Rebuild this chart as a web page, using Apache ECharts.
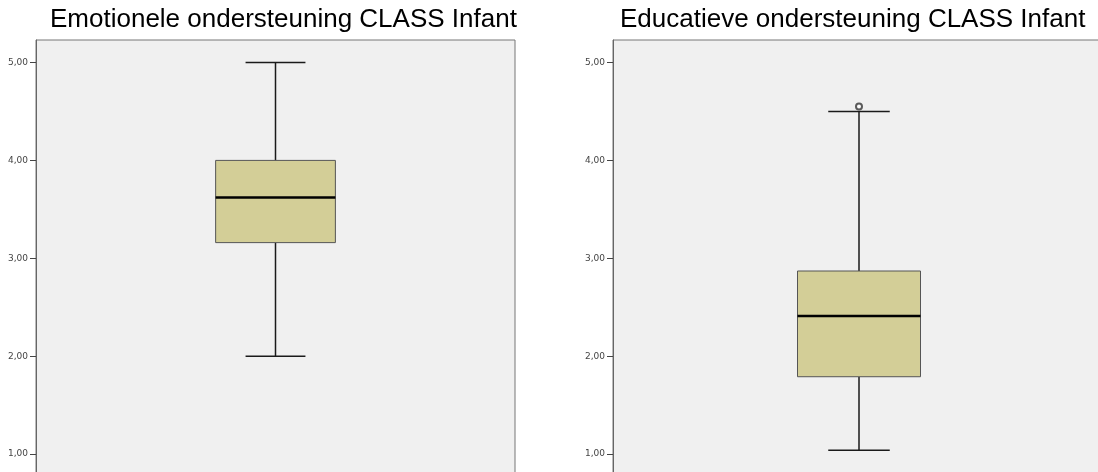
<!DOCTYPE html>
<html>
<head>
<meta charset="utf-8">
<script src="https://cdn.jsdelivr.net/npm/echarts@6/dist/echarts.min.js"></script>
<style>
  html, body { margin: 0; padding: 0; background: #fff; }
  #chart { width: 1098px; height: 472px; }
</style>
</head>
<body>
<div id="chart"></div>
<script>
// --- data ---
var titles = ['Emotionele ondersteuning CLASS Infant', 'Educatieve ondersteuning CLASS Infant'];
var categories = ['1'];
// [min, Q1, median, Q3, max]
var emotioneel = [2.00, 3.16, 3.62, 4.00, 5.00];
var educatief = [1.04, 1.79, 2.41, 2.87, 4.50];
var educatiefOutliers = [4.55];
var yTicks = [1, 2, 3, 4, 5];

var chart = echarts.init(document.getElementById('chart'), null, { renderer: 'canvas' });

function fmt(v) { return v.toFixed(2).replace('.', ','); }

function renderBox(params, api) {
  var x = api.value(0);
  var lo = api.coord([x, api.value(1)]);
  var q1 = api.coord([x, api.value(2)]);
  var med = api.coord([x, api.value(3)]);
  var q3 = api.coord([x, api.value(4)]);
  var hi = api.coord([x, api.value(5)]);
  var band = api.size([1, 0])[0];
  var bw = band * 0.25;
  var cw = bw / 2;
  var cx = lo[0];
  var line = { stroke: '#1a1a1a', lineWidth: 1.5 };
  return {
    type: 'group',
    children: [
      { type: 'line', shape: { x1: cx, y1: hi[1], x2: cx, y2: q3[1] }, style: line },
      { type: 'line', shape: { x1: cx, y1: q1[1], x2: cx, y2: lo[1] }, style: line },
      { type: 'line', shape: { x1: cx - cw / 2, y1: hi[1], x2: cx + cw / 2, y2: hi[1] }, style: line },
      { type: 'line', shape: { x1: cx - cw / 2, y1: lo[1], x2: cx + cw / 2, y2: lo[1] }, style: line },
      { type: 'rect', shape: { x: cx - bw / 2, y: q3[1], width: bw, height: q1[1] - q3[1] },
        style: { fill: '#d3ce97', stroke: '#555', lineWidth: 1 } },
      { type: 'line', shape: { x1: cx - bw / 2, y1: med[1], x2: cx + bw / 2, y2: med[1] },
        style: { stroke: '#000', lineWidth: 2.5 } }
    ]
  };
}

function makeY(idx) {
  return {
    type: 'value', gridIndex: idx, min: 0.5, max: 5.23,
    axisLine: { show: true, lineStyle: { color: '#666', width: 1 } },
    axisTick: { show: true, length: 6, customValues: yTicks, lineStyle: { color: '#444' } },
    axisLabel: { customValues: yTicks, formatter: fmt, fontSize: 9, margin: 8,
      color: '#444', fontFamily: 'DejaVu Sans' },
    splitLine: { show: false }
  };
}

function makeX(idx) {
  return {
    type: 'category', gridIndex: idx, data: categories,
    axisLine: { show: false }, axisTick: { show: false }, axisLabel: { show: false }
  };
}

var titleStyle = { fontFamily: 'Liberation Sans', fontSize: 26, fontWeight: 'normal', color: '#000' };

chart.setOption({
  animation: false,
  title: [
    { text: titles[0], left: 50, top: 7, padding: 0, textStyle: titleStyle },
    { text: titles[1], left: 620, top: 7, padding: 0, textStyle: titleStyle }
  ],
  grid: [
    { left: 36, top: 40, width: 479, height: 463, outerBoundsMode: 'none', containLabel: false,
      show: true, backgroundColor: '#f0f0f0', borderColor: '#777', borderWidth: 1 },
    { left: 613, top: 40, width: 492, height: 463, outerBoundsMode: 'none', containLabel: false,
      show: true, backgroundColor: '#f0f0f0', borderColor: '#777', borderWidth: 1 }
  ],
  xAxis: [makeX(0), makeX(1)],
  yAxis: [makeY(0), makeY(1)],
  series: [
    { type: 'custom', xAxisIndex: 0, yAxisIndex: 0, renderItem: renderBox,
      data: [[0].concat(emotioneel)] },
    { type: 'custom', xAxisIndex: 1, yAxisIndex: 1, renderItem: renderBox,
      data: [[0].concat(educatief)] },
    { type: 'scatter', xAxisIndex: 1, yAxisIndex: 1, symbol: 'emptyCircle', symbolSize: 6,
      itemStyle: { color: '#333', borderWidth: 1 },
      data: educatiefOutliers.map(function (v) { return [0, v]; }) }
  ]
});
</script>
</body>
</html>
